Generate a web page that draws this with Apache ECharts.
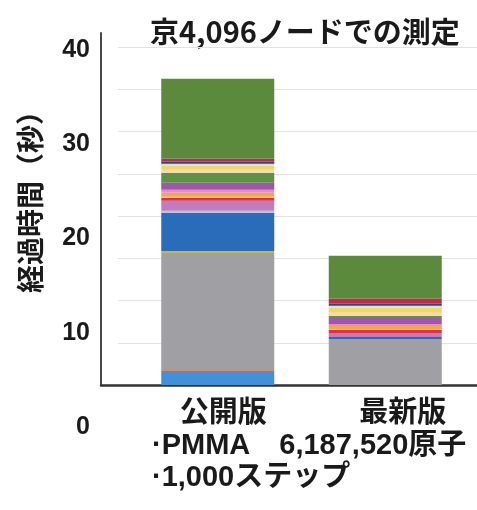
<!DOCTYPE html>
<html>
<head>
<meta charset="utf-8">
<script src="https://cdn.jsdelivr.net/npm/echarts@6/dist/echarts.min.js"></script>
<style>
  html, body { margin: 0; padding: 0; background: #ffffff; }
  #chart { width: 477px; height: 510px; }
</style>
</head>
<body>
<div id="chart"></div>
<script>
// Categories on the x axis
const categories = ['公開版', '最新版'];

// Elapsed time (s) of each stacked part, listed from the bottom of the bar upward
const releasedParts = [1.66, 0.12, 13.85, 0.24, 4.5, 0.24, 1.18, 0.36, 0.12, 0.47, 0.36, 0.83, 1.18, 0.36, 0.47, 0.24, 0.24, 0.36, 9.47];
const latestParts   = [0,    0,    5.44,  0,    0.24, 0,   0.47, 0.36, 0.12, 0.36, 0.24, 0.71, 0.24, 0.36, 0.59, 0.24, 0.24, 0.59, 5.09];

// Fill colour of each part, same order
const partColors = ['#4490d8', '#e08a55', '#a0a0a4', '#c9b540', '#2b6cba', '#a8c5e6', '#c07cbd', '#d8334b', '#f1c19c', '#f6a83a', '#e08fc9', '#a056b0', '#5f9147', '#efdfae', '#f7d565', '#cfe2df', '#27497f', '#d21f4c', '#5b8a3d'];

// Y-axis tick labels
const yTicks = [0, 10, 20, 30, 40];

const TITLE = '京4,096ノードでの測定';
const Y_NAME = '経過時間（秒）';
const NOTE_1 = '·PMMA　6,187,520原子';
const NOTE_2 = '·1,000ステップ';

const JP = '"Noto Sans CJK JP", "Noto Sans", sans-serif';
const MIX = '"Liberation Sans", "Noto Sans CJK JP", sans-serif';

const chart = echarts.init(document.getElementById('chart'), null, { renderer: 'canvas' });

const barSeries = partColors.map((color, i) => ({
  type: 'bar',
  stack: 'time',
  xAxisIndex: 2,
  yAxisIndex: 2,
  barWidth: 113,
  itemStyle: { color: color },
  emphasis: { disabled: true },
  data: [releasedParts[i], latestParts[i]]
}));

chart.setOption({
  backgroundColor: '#ffffff',
  animation: false,
  grid: [
    // frame: the two axis lines
    { left: 101, top: 33, width: 376, height: 352 },
    // horizontal grid lines and category labels
    { left: 118, top: 47, width: 359, height: 338 },
    // stacked bars
    { left: 134, top: 47, width: 335, height: 338 },
    // y tick labels
    { left: 101, top: 50, width: 10, height: 377 }
  ],
  xAxis: [
    {
      gridIndex: 0, type: 'value', min: 0, max: 1,
      axisLine: { show: true, onZero: false, lineStyle: { color: '#333333', width: 2.5 } },
      axisTick: { show: false }, axisLabel: { show: false }, splitLine: { show: false }
    },
    {
      gridIndex: 1, type: 'category', data: categories,
      axisLine: { show: false }, axisTick: { show: false },
      axisLabel: {
        margin: 11, padding: [0, 0, 0, 31],
        fontSize: 29, fontWeight: 'bold', fontFamily: JP, color: '#1a1a1a', lineHeight: 30
      },
      splitLine: { show: false }
    },
    {
      gridIndex: 2, type: 'category', data: categories,
      axisLine: { show: false }, axisTick: { show: false }, axisLabel: { show: false }
    },
    { gridIndex: 3, type: 'value', show: false, min: 0, max: 1 }
  ],
  yAxis: [
    {
      gridIndex: 0, type: 'value', min: 0, max: 1,
      axisLine: { show: true, onZero: false, lineStyle: { color: '#4a4a4a', width: 2 } },
      axisTick: { show: false }, axisLabel: { show: false }, splitLine: { show: false }
    },
    {
      gridIndex: 1, type: 'value', min: 0, max: yTicks[yTicks.length - 1], interval: 5,
      axisLine: { show: false }, axisTick: { show: false }, axisLabel: { show: false },
      splitLine: { show: true, lineStyle: { color: '#e2e2e2', width: 1 } }
    },
    {
      gridIndex: 2, type: 'value', min: 0, max: yTicks[yTicks.length - 1],
      axisLine: { show: false }, axisTick: { show: false }, axisLabel: { show: false },
      splitLine: { show: false }
    },
    {
      gridIndex: 3, type: 'value',
      min: yTicks[0], max: yTicks[yTicks.length - 1], interval: yTicks[1] - yTicks[0],
      axisLine: { show: false }, axisTick: { show: false }, splitLine: { show: false },
      axisLabel: {
        margin: 11, fontSize: 25, fontWeight: 'bold', fontFamily: MIX, color: '#1a1a1a'
      }
    }
  ],
  graphic: [
    {
      type: 'text', x: 150, y: 32,
      style: { text: TITLE, font: 'bold 29px ' + JP, fill: '#1a1a1a', textAlign: 'left', textVerticalAlign: 'middle' }
    },
    {
      type: 'text', x: 30, y: 195, rotation: Math.PI / 2,
      style: { text: Y_NAME, font: 'bold 28px ' + JP, fill: '#1a1a1a', textAlign: 'center', textVerticalAlign: 'middle' }
    },
    {
      type: 'text', x: 152, y: 446,
      style: { text: NOTE_1, font: 'bold 29px ' + MIX, fill: '#1a1a1a', textAlign: 'left', textVerticalAlign: 'middle' }
    },
    {
      type: 'text', x: 152, y: 478,
      style: { text: NOTE_2, font: 'bold 29px ' + MIX, fill: '#1a1a1a', textAlign: 'left', textVerticalAlign: 'middle' }
    }
  ],
  series: barSeries
});
</script>
</body>
</html>
